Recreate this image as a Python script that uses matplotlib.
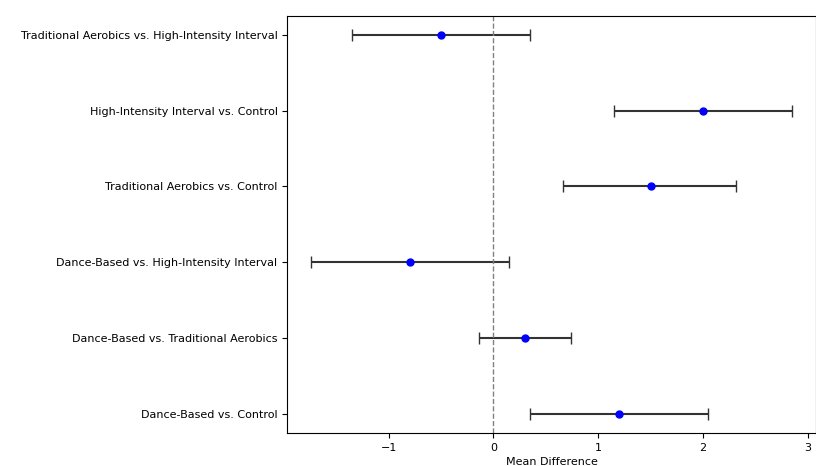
import matplotlib.pyplot as plt

comparisons = [
    "Dance-Based vs. Control",
    "Dance-Based vs. Traditional Aerobics",
    "Dance-Based vs. High-Intensity Interval",
    "Traditional Aerobics vs. Control",
    "High-Intensity Interval vs. Control",
    "Traditional Aerobics vs. High-Intensity Interval",
]
mean_diff = [1.2, 0.3, -0.8, 1.5, 2.0, -0.5]
lower = [0.35, -0.14, -1.74, 0.66, 1.15, -1.35]
upper = [2.05, 0.74, 0.15, 2.32, 2.85, 0.35]

err_low = [m - l for m, l in zip(mean_diff, lower)]
err_high = [u - m for m, u in zip(mean_diff, upper)]

fig = plt.figure(figsize=(8.16, 4.66), dpi=100)
ax = fig.add_axes([0.352, 0.071, 0.648, 0.895])

ax.errorbar(mean_diff, range(len(comparisons)), xerr=[err_low, err_high],
            fmt="o", color="blue", ecolor="#333333", capsize=4, markersize=5, elinewidth=1.5)
ax.axvline(0, color="gray", linestyle="--", linewidth=1)
ax.set_yticks(range(len(comparisons)))
ax.set_yticklabels(comparisons, fontsize=8)
ax.tick_params(axis="x", labelsize=8)
ax.set_xlabel("Mean Difference", fontsize=8, labelpad=3)

fig.savefig("out.png", dpi=100)
